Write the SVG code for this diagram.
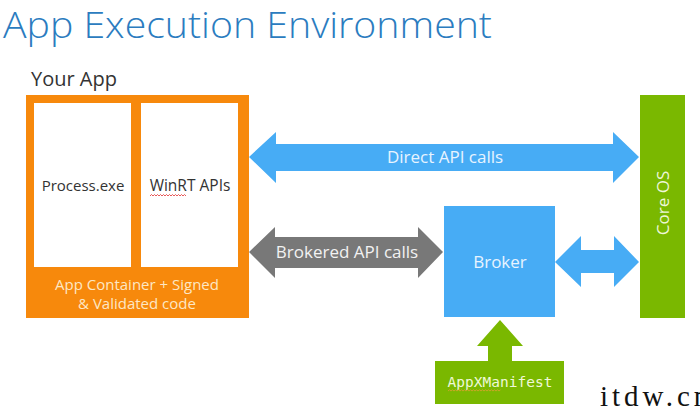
<svg xmlns="http://www.w3.org/2000/svg" width="700" height="416" viewBox="0 0 700 416">
<style>
.sans{font-family:"Open Sans","Noto Sans","Liberation Sans",sans-serif}
.blue{fill:#47acf5}
.lbl{fill:#e8f4ff;font-size:17px}
</style>
<rect width="700" height="416" fill="#ffffff"/>
<text class="sans" x="3" y="38" font-size="36" font-weight="300" fill="#2b7cbf" textLength="489" lengthAdjust="spacingAndGlyphs">App Execution Environment</text>
<text class="sans" x="31" y="86" font-size="20" fill="#333333">Your App</text>
<g id="app-container">
  <rect x="26" y="95" width="223" height="223" fill="#f7890c"/>
  <text class="sans" x="137" y="290" font-size="15" fill="#fde7c4" text-anchor="middle">App Container + Signed</text>
  <text class="sans" x="137" y="309" font-size="15" fill="#fde7c4" text-anchor="middle">&amp; Validated code</text>
</g>
<g id="process">
  <rect x="34" y="103" width="97" height="164" fill="#ffffff"/>
  <text class="sans" x="83" y="191" font-size="15" fill="#333333" text-anchor="middle">Process.exe</text>
</g>
<g id="winrt">
  <rect x="141" y="103" width="97" height="164" fill="#ffffff"/>
  <text class="sans" x="190" y="191" font-size="15.5" fill="#333333" text-anchor="middle">WinRT APIs</text>
  <path d="M150 196 l1.5 -1.5 l1.5 1.5 l1.5 -1.5 l1.5 1.5 l1.5 -1.5 l1.5 1.5 l1.5 -1.5 l1.5 1.5 l1.5 -1.5 l1.5 1.5 l1.5 -1.5 l1.5 1.5 l1.5 -1.5 l1.5 1.5 l1.5 -1.5 l1.5 1.5 l1.5 -1.5 l1.5 1.5 l1.5 -1.5 l1.5 1.5 l1.5 -1.5 l1.5 1.5 l1.5 -1.5 l1.5 1.5" fill="none" stroke="#e03030" stroke-width="0.8"/>
</g>
<g id="core-os">
  <rect x="640" y="95" width="45" height="223" fill="#7ab800"/>
  <text class="sans" transform="translate(669,203) rotate(-90)" font-size="17" fill="#eef7d8" text-anchor="middle">Core OS</text>
</g>
<g id="broker">
  <rect x="444" y="206" width="111" height="111" fill="#47acf5"/>
  <text class="sans" x="500" y="268" font-size="17" fill="#e8f4ff" text-anchor="middle">Broker</text>
</g>
<g id="appxmanifest">
  <rect x="435" y="361" width="129" height="43" fill="#7ab800"/>
  <text x="500" y="387" font-family="'DejaVu Sans Mono','Liberation Mono',monospace" font-size="14.5" fill="#f0f8d8" text-anchor="middle">AppXManifest</text>
  <path d="M448 391 l1.5 -1.2 l1.5 1.2 l1.5 -1.2 l1.5 1.2 l1.5 -1.2 l1.5 1.2 l1.5 -1.2 l1.5 1.2 l1.5 -1.2 l1.5 1.2 l1.5 -1.2 l1.5 1.2 l1.5 -1.2 l1.5 1.2 l1.5 -1.2 l1.5 1.2 l1.5 -1.2 l1.5 1.2 l1.5 -1.2 l1.5 1.2 l1.5 -1.2 l1.5 1.2 l1.5 -1.2 l1.5 1.2 l1.5 -1.2 l1.5 1.2 l1.5 -1.2 l1.5 1.2 l1.5 -1.2 l1.5 1.2 l1.5 -1.2 l1.5 1.2 l1.5 -1.2 l1.5 1.2 l1.5 -1.2" fill="none" stroke="#e0a030" stroke-width="0.8"/>
</g>
<g id="connectors">
  <path class="blue" d="M249 157 L276 132 L276 144 L613 144 L613 132 L639 157 L613 183 L613 171 L276 171 L276 183 Z"/>
  <text class="sans lbl" x="445" y="163" text-anchor="middle">Direct API calls</text>
  <path fill="#787878" d="M249 252 L275 227 L275 237 L418 237 L418 227 L443 252 L418 278 L418 268 L275 268 L275 278 Z"/>
  <text class="sans" x="347" y="258" font-size="17" fill="#f2f2f2" text-anchor="middle">Brokered API calls</text>
  <path class="blue" d="M555 262 L581 236 L581 250 L614 250 L614 236 L639 262 L614 287 L614 273 L581 273 L581 287 Z"/>
  <path fill="#7ab800" d="M500 320 L523 346 L512 346 L512 361 L488 361 L488 346 L477 346 Z"/>
</g>
<text x="600" y="406" font-family="'Liberation Serif',serif" font-size="29" fill="#111111" letter-spacing="4">itdw.cn</text>
</svg>
